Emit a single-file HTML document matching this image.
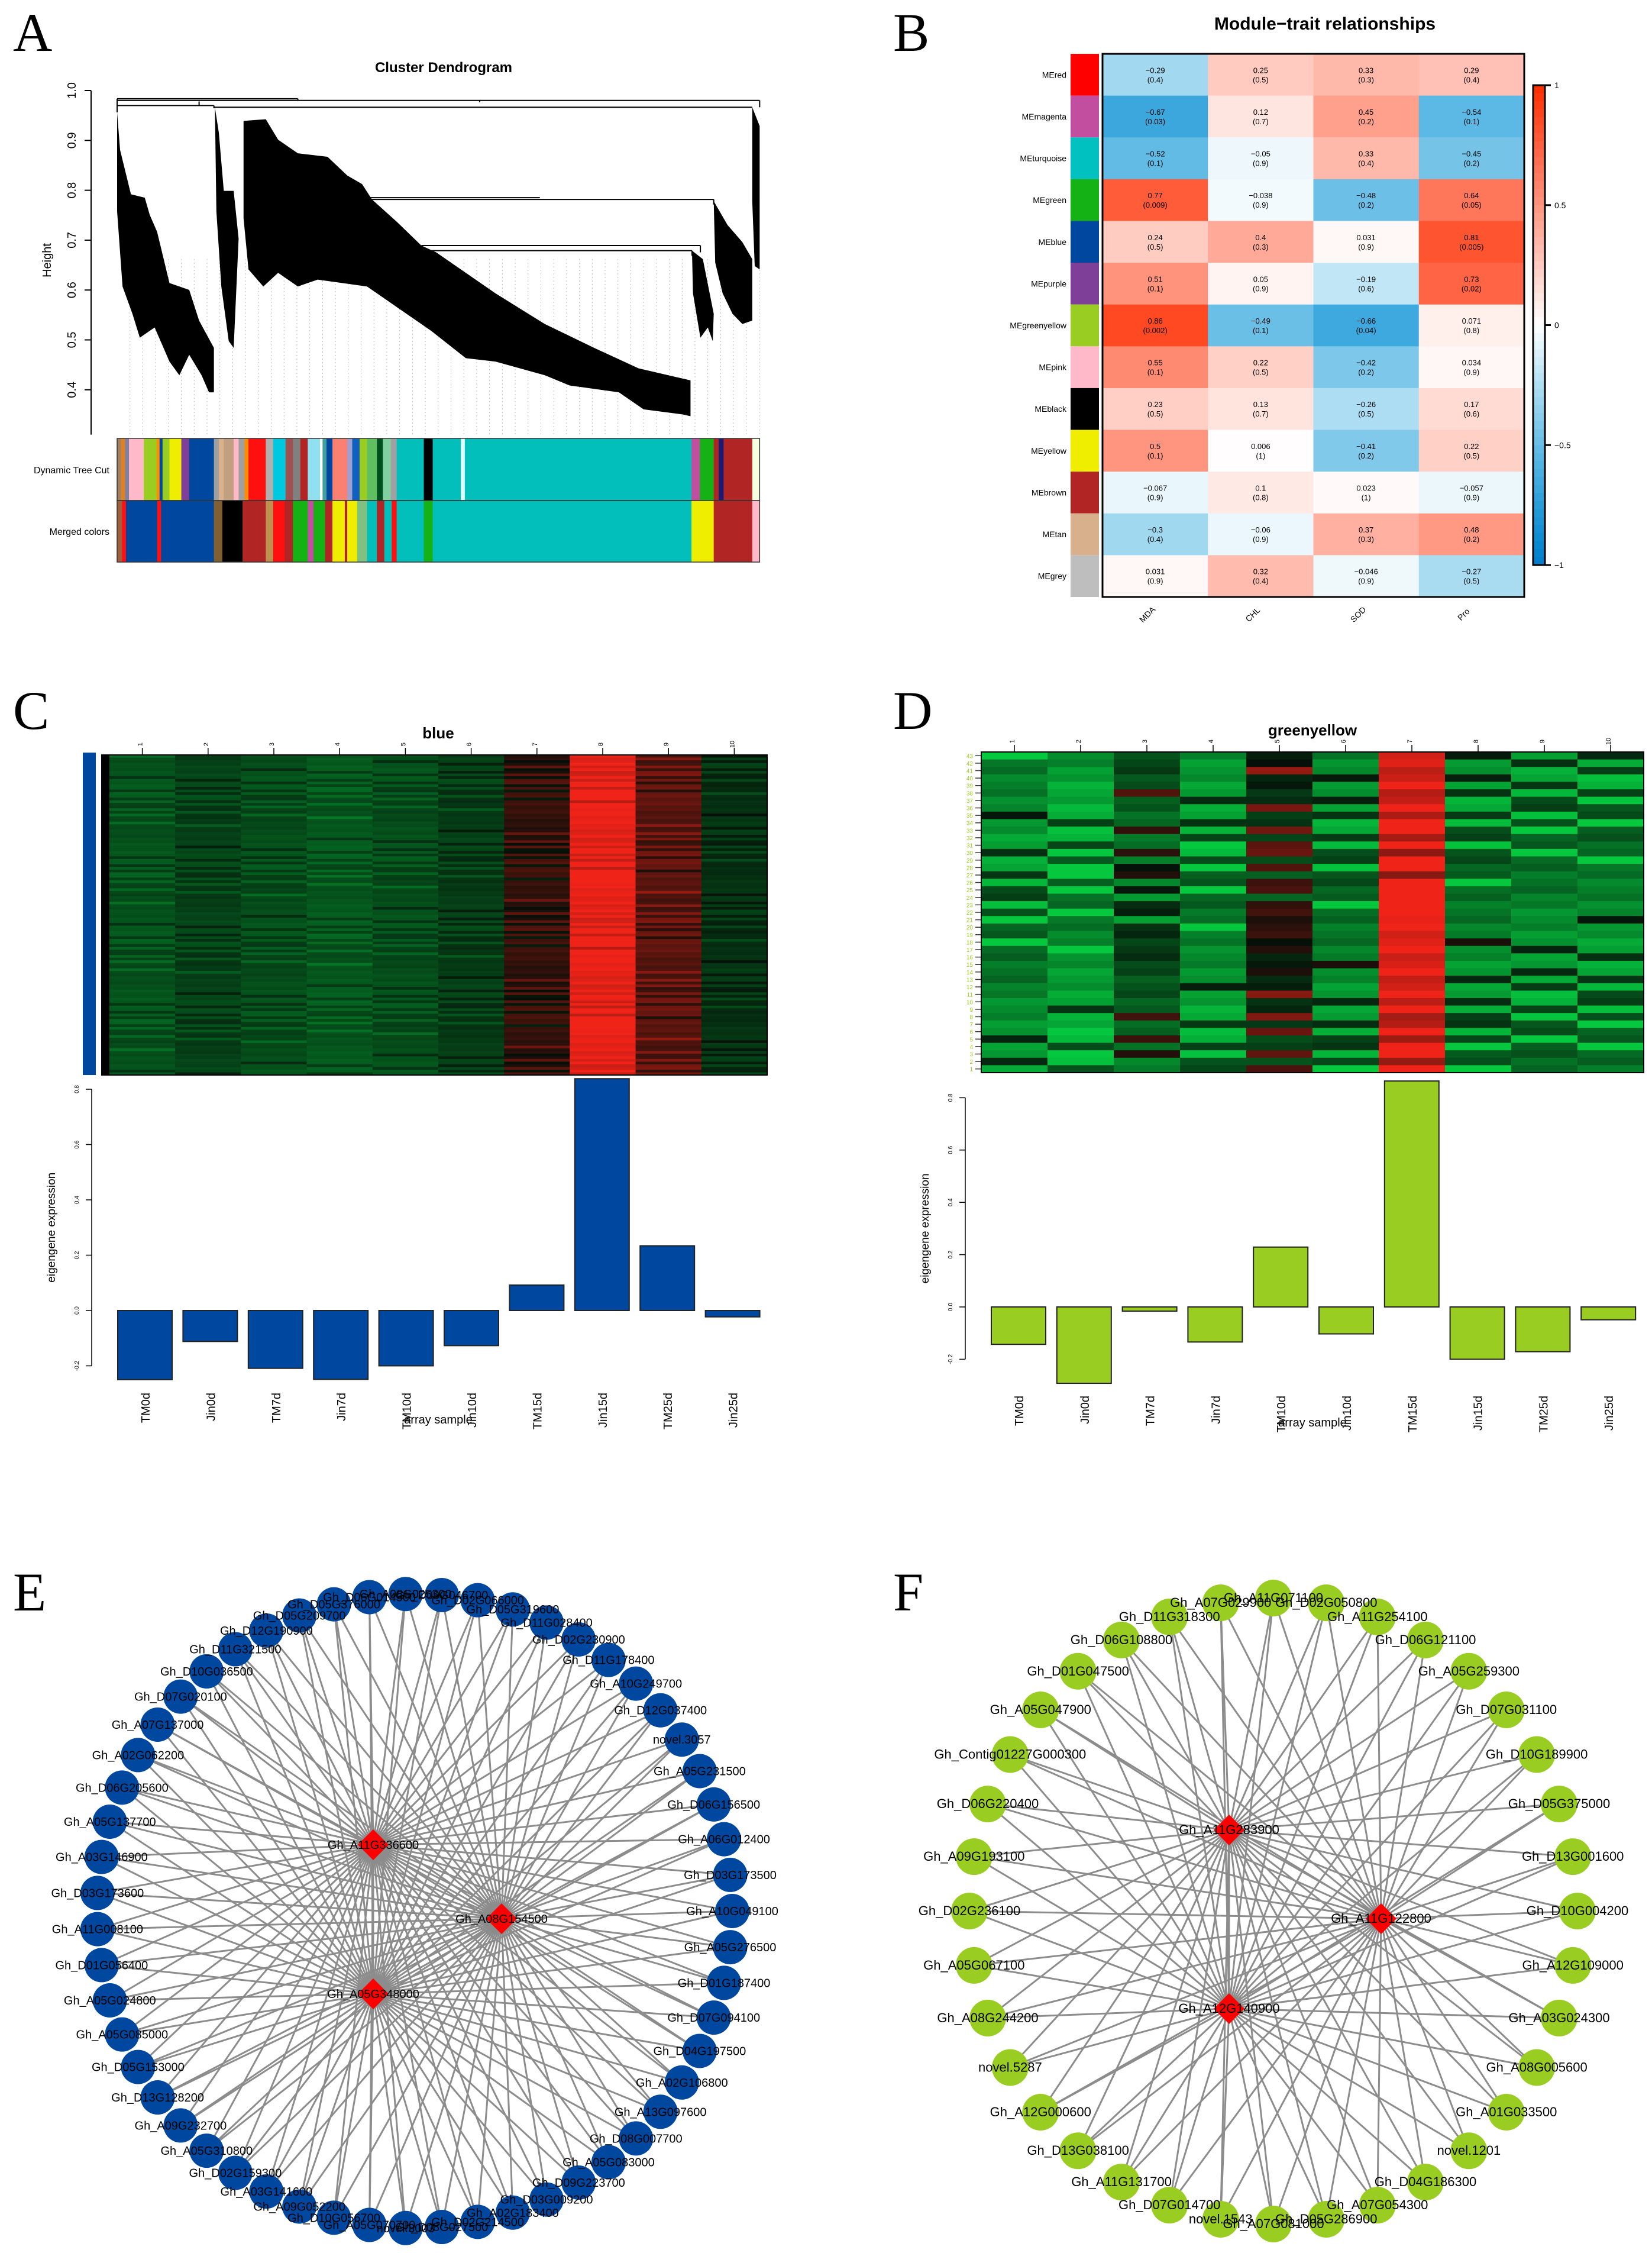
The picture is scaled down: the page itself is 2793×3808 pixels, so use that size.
<!DOCTYPE html>
<html><head><meta charset="utf-8"><title>WGCNA figure</title>
<style>
html,body{margin:0;padding:0;background:#fff;}
svg{display:block;font-family:"Liberation Sans",sans-serif;}
</style></head>
<body>
<svg id="fig" xmlns="http://www.w3.org/2000/svg" width="2793" height="3808" viewBox="0 0 2793 3808">
<rect x="0" y="0" width="2793" height="3808" fill="#fff"/>
<g font-family="Liberation Serif, serif" font-size="92" fill="#000">
<text x="22" y="86">A</text>
<text x="1510" y="86">B</text>
<text x="22" y="1232">C</text>
<text x="1510" y="1232">D</text>
<text x="22" y="2722">E</text>
<text x="1510" y="2722">F</text>
</g>
<g id="pA"></g>
<g id="pB"></g>
<g id="pC"></g>
<g id="pD"></g>
<g id="pE"></g>
<g id="pF"></g>
</svg>
<script>
// ---------- DATA ----------
const traitNames = ["MDA","CHL","SOD","Pro"];
const moduleNames = ["MEred","MEmagenta","MEturquoise","MEgreen","MEblue","MEpurple","MEgreenyellow","MEpink","MEblack","MEyellow","MEbrown","MEtan","MEgrey"];
const moduleColors = ["#ff0000","#c14e9f","#00c0c0","#14b214","#0047a0","#7d3f98","#9acd22","#ffb9c9","#000000","#f0ee00","#b22525","#d8b08c","#bebebe"];
const corVals = [
 [-0.29,0.25,0.33,0.29],[-0.67,0.12,0.45,-0.54],[-0.52,-0.05,0.33,-0.45],[0.77,-0.038,-0.48,0.64],
 [0.24,0.4,0.031,0.81],[0.51,0.05,-0.19,0.73],[0.86,-0.49,-0.66,0.071],[0.55,0.22,-0.42,0.034],
 [0.23,0.13,-0.26,0.17],[0.5,0.006,-0.41,0.22],[-0.067,0.1,0.023,-0.057],[-0.3,-0.06,0.37,0.48],[0.031,0.32,-0.046,-0.27]];
const pVals = [
 ["0.4","0.5","0.3","0.4"],["0.03","0.7","0.2","0.1"],["0.1","0.9","0.4","0.2"],["0.009","0.9","0.2","0.05"],
 ["0.5","0.3","0.9","0.005"],["0.1","0.9","0.6","0.02"],["0.002","0.1","0.04","0.8"],["0.1","0.5","0.2","0.9"],
 ["0.5","0.7","0.5","0.6"],["0.1","1","0.2","0.5"],["0.9","0.8","1","0.9"],["0.4","0.9","0.3","0.2"],["0.9","0.4","0.9","0.5"]];
const colorbarTicks = [1,0.5,0,-0.5,-1];
const samples = ["TM0d","Jin0d","TM7d","Jin7d","TM10d","Jin10d","TM15d","Jin15d","TM25d","Jin25d"];
const blueEigen = [-0.25,-0.112,-0.209,-0.249,-0.2,-0.127,0.092,0.838,0.234,-0.023];
const gyEigen = [-0.143,-0.292,-0.016,-0.134,0.229,-0.103,0.864,-0.2,-0.171,-0.049];
const eigenTicks = [0.8,0.6,0.4,0.2,0.0,-0.2];
const blueColLevel = [-0.6,-0.45,-0.55,-0.65,-0.55,-0.4,0.12,1.0,0.3,-0.3];
const gyColLevel = [-0.6,-0.75,-0.3,-0.65,0.02,-0.55,1.0,-0.55,-0.6,-0.6];
const dendroTicks = [1.0,0.9,0.8,0.7,0.6,0.5,0.4];
const dynSeg = [[234,"#a08060"],[242,"#e08020"],[250,"#8080a0"],[258,"#ffb9c9"],[288,"#9acd22"],[314,"#ff8c00"],[320,"#0047a0"],[326,"#9acd22"],[340,"#f0ee00"],[364,"#7d3f98"],[380,"#0047a0"],[430,"#a0a0a0"],[440,"#d8b08c"],[450,"#c0a080"],[470,"#ffb9c9"],[480,"#a0a0a0"],[492,"#ff8c00"],[500,"#ff1010"],[535,"#b0b0b0"],[550,"#00c8e0"],[575,"#a05050"],[590,"#808080"],[605,"#b22525"],[620,"#90e0f0"],[645,"#ffffff"],[650,"#40a0a0"],[658,"#0047a0"],[670,"#fa8072"],[700,"#a0a0d0"],[710,"#1060c0"],[725,"#9acd22"],[740,"#60c060"],[760,"#005020"],[772,"#80d0a0"],[788,"#a0a0a0"],[800,"#02bfbb"],[855,"#000000"],[873,"#02bfbb"],[930,"#e0ffff"],[938,"#02bfbb"],[1397,"#c14e9f"],[1414,"#14b214"],[1442,"#b22525"],[1452,"#1a1a70"],[1462,"#b22525"],[1520,"#f5ffe0"],[1535,null]];
const mrgSeg = [[234,"#a06040"],[244,"#ff1010"],[252,"#0047a0"],[315,"#ff1010"],[323,"#0047a0"],[430,"#806030"],[447,"#000000"],[488,"#b22525"],[535,"#c09050"],[550,"#ff1010"],[573,"#b22525"],[590,"#14b214"],[620,"#c14e9f"],[632,"#14b214"],[655,"#b22525"],[670,"#f0ee00"],[695,"#b22525"],[700,"#f0ee00"],[720,"#80c080"],[740,"#02bfbb"],[760,"#b22525"],[775,"#02bfbb"],[790,"#ff1010"],[800,"#02bfbb"],[855,"#14b214"],[873,"#02bfbb"],[1397,"#f0ee00"],[1442,"#b22525"],[1520,"#ffb9c9"],[1535,null]];
const eNodes = ["Gh_A08G025300","Gh_D09G046700","Gh_D02G066000","Gh_D05G319600","Gh_D11G028400","Gh_D02G230900","Gh_D11G178400","Gh_A10G249700","Gh_D12G037400","novel.3057","Gh_A05G231500","Gh_D06G156500","Gh_A06G012400","Gh_D03G173500","Gh_A10G049100","Gh_A05G276500","Gh_D01G187400","Gh_D07G094100","Gh_D04G197500","Gh_A02G106800","Gh_A13G097600","Gh_D08G007700","Gh_A05G083000","Gh_D09G223700","Gh_D03G009200","Gh_A02G183400","Gh_D02G214500","Gh_D08G027500","novel.3003","Gh_A05G070700","Gh_D10G056700","Gh_A09G052200","Gh_A03G141600","Gh_D02G159300","Gh_A05G310800","Gh_A09G232700","Gh_D13G128200","Gh_D05G153000","Gh_A05G085000","Gh_A05G024800","Gh_D01G056400","Gh_A11G008100","Gh_D03G173600","Gh_A03G146900","Gh_A05G137700","Gh_D06G205600","Gh_A02G062200","Gh_A07G137000","Gh_D07G020100","Gh_D10G036500","Gh_D11G321500","Gh_D12G190900","Gh_D05G209700","Gh_D05G376000","Gh_D06G014500"];
const eHubs = ["Gh_A11G336600","Gh_A08G154500","Gh_A05G348000"];
const fNodes = ["Gh_A11G071100","Gh_D02G050800","Gh_A11G254100","Gh_D06G121100","Gh_A05G259300","Gh_D07G031100","Gh_D10G189900","Gh_D05G375000","Gh_D13G001600","Gh_D10G004200","Gh_A12G109000","Gh_A03G024300","Gh_A08G005600","Gh_A01G033500","novel.1201","Gh_D04G186300","Gh_A07G054300","Gh_D05G286900","Gh_A07G081000","novel.1543","Gh_D07G014700","Gh_A11G131700","Gh_D13G038100","Gh_A12G000600","novel.5287","Gh_A08G244200","Gh_A05G067100","Gh_D02G236100","Gh_A09G193100","Gh_D06G220400","Gh_Contig01227G000300","Gh_A05G047900","Gh_D01G047500","Gh_D06G108800","Gh_D11G318300","Gh_A07G029900"];
const fHubs = ["Gh_A11G283900","Gh_A11G122800","Gh_A12G140900"];

// ---------- HELPERS ----------
const NS="http://www.w3.org/2000/svg";
function mk(tag, attrs, parent){const e=document.createElementNS(NS,tag);for(const k in attrs)e.setAttribute(k,attrs[k]);parent.appendChild(e);return e;}
function txt(s, attrs, parent){const e=mk("text",attrs,parent);e.textContent=s;return e;}

// ---------- PANEL A ----------
(function(){
 const g=document.getElementById("pA");
 const dx=o=>198+(o-234)*0.835, dyo=o=>153+(o-126)*0.577;
 const hy=v=>153+(1.0-v)*843;
 let t=txt("Cluster Dendrogram",{x:750,y:122,"font-size":24,"font-weight":"bold","text-anchor":"middle"},g);
 
 
 let ax=mk("line",{x1:154,y1:hy(1.0),x2:154,y2:hy(0.31),stroke:"#000","stroke-width":2},g);
 
 
 dendroTicks.forEach(v=>{
  mk("line",{x1:143,y1:hy(v),x2:154,y2:hy(v),stroke:"#000","stroke-width":2},g);
  let tl=txt(v.toFixed(1),{x:128,y:hy(v),"font-size":20,"text-anchor":"middle",transform:`rotate(-90 128 ${hy(v)})`},g);
  
  
 });
 let yl=txt("Height",{x:86,y:440,"font-size":20,"text-anchor":"middle",transform:"rotate(-90 86 440)"},g);
 
 
 for(let o=260;o<1535;o+=26){mk("line",{x1:dx(o),y1:dyo(620),x2:dx(o),y2:dyo(1140),stroke:"#bbb","stroke-width":1,"stroke-dasharray":"2 4"},g);}
 const polys=[
  [[234,190],[240,300],[262,430],[290,440],[300,490],[315,540],[340,690],[380,710],[400,800],[430,880],[430,1010],[420,1010],[405,960],[380,900],[360,960],[340,920],[310,820],[280,850],[265,780],[245,700],[234,480]],
  [[432,175],[440,250],[450,420],[470,420],[480,560],[470,880],[460,860],[445,700],[435,480]],
  [[490,215],[535,210],[560,270],[600,310],[660,320],[700,375],[730,400],[750,445],[800,510],[850,580],[880,600],[1000,720],[1100,810],[1200,880],[1290,940],[1395,975],[1395,1080],[1380,1075],[1300,1060],[1250,1010],[1150,990],[1100,960],[1000,920],[940,910],[870,830],[800,760],[740,700],[690,690],[640,680],[600,700],[560,660],[530,700],[500,650],[490,500]],
  [[1398,595],[1420,620],[1442,780],[1440,860],[1430,820],[1415,850],[1400,720]],
  [[1442,450],[1470,520],[1500,570],[1520,620],[1520,800],[1500,810],[1480,780],[1460,720],[1445,630]],
  [[1520,175],[1535,230],[1535,650],[1525,640],[1520,450]]];
 polys.forEach(p=>{
  let pg=mk("polygon",{points:p.map(q=>dx(q[0])+","+dyo(q[1])).join(" "),fill:"#000"},g);
  
  
 });
 const lines=[[234,155,1535,155],[234,150,600,150],[234,170,430,170],[430,175,1520,175],[745,445,1442,445],[850,580,1415,580],[860,595,1398,595],[1442,445,1442,460],[1415,580,1415,600],[1398,595,1398,610],[1535,155,1535,175],[234,150,234,190],[430,170,430,178],[600,150,600,155],[968,155,968,160],[400,158,400,170],[745,440,1090,440]];
 lines.forEach(l=>mk("line",{x1:dx(l[0]),y1:dyo(l[1]),x2:dx(l[2]),y2:dyo(l[3]),stroke:"#000","stroke-width":2},g));
 function bar(segs,y,h,name){
  for(let i=0;i<segs.length-1;i++){
   let r=mk("rect",{x:dx(segs[i][0]),y:y,width:dx(segs[i+1][0])-dx(segs[i][0])+0.5,height:h,fill:segs[i][1]},g);
   
   
  }
  mk("rect",{x:dx(234),y:y,width:dx(1535)-dx(234),height:h,fill:"none",stroke:"#333","stroke-width":1.5},g);
 }
 bar(dynSeg,741,105,'dynamic-tree-cut-segment');
 bar(mrgSeg,846,104,'merged-colors-segment');
 let l1=txt("Dynamic Tree Cut",{x:185,y:800,"font-size":16,"text-anchor":"end"},g);
 
 
 let l2=txt("Merged colors",{x:185,y:904,"font-size":16,"text-anchor":"end"},g);
 
 
})();

// ---------- PANEL B ----------
function corColor(v){
 if(v>=0){const r=255,gg=255-v*211,b=255-v*255;return `rgb(${r|0},${Math.max(0,gg)|0},${Math.max(0,b)|0})`;}
 const a=-v;const r=255*Math.pow(1-a,1.3),gg=255-a*130,b=255-a*50;return `rgb(${r|0},${gg|0},${b|0})`;
}
(function(){
 const g=document.getElementById("pB");
 const L=1864,R=2577,T=91,B=1009,cw=(R-L)/4,rh=(B-T)/13;
 let t=txt("Module\u2212trait relationships",{x:2240,y:50,"font-size":30,"font-weight":"bold","text-anchor":"middle"},g);
 
 
 moduleNames.forEach((m,i)=>{
  let sw=mk("rect",{x:1810,y:T+i*rh,width:48,height:rh,fill:moduleColors[i]},g);
  
  
  let lb=txt(m,{x:1803,y:T+i*rh+rh/2+5,"font-size":14,"text-anchor":"end"},g);
  
  
  traitNames.forEach((tn,j)=>{
   let c=mk("rect",{x:L+j*cw,y:T+i*rh,width:cw+0.5,height:rh+0.5,fill:corColor(corVals[i][j])},g);
   
   
   let tv=txt(String(corVals[i][j]).replace("-","\u2212"),{x:L+j*cw+cw/2,y:T+i*rh+rh/2-3,"font-size":13,"text-anchor":"middle"},g);
   
   
   let tp=txt("("+pVals[i][j]+")",{x:L+j*cw+cw/2,y:T+i*rh+rh/2+13,"font-size":13,"text-anchor":"middle"},g);
   
   
  });
 });
 mk("rect",{x:L,y:T,width:R-L,height:B-T,fill:"none",stroke:"#000","stroke-width":3},g);
 traitNames.forEach((tn,j)=>{
  const x=L+j*cw+cw/2-10,y=1042;
  let tl=txt(tn,{x:x,y:y,"font-size":14,"text-anchor":"middle",transform:`rotate(-45 ${x} ${y})`},g);
  
  
 });
 const cx=2592,cT=144,cB=955;
 const n=60;
 for(let k=0;k<n;k++){
  const v=1-2*(k+0.5)/n;
  mk("rect",{x:cx,y:cT+k*(cB-cT)/n,width:20,height:(cB-cT)/n+0.6,fill:corColor(v)},g);
 }
 let cb=mk("rect",{x:cx,y:cT,width:20,height:cB-cT,fill:"none",stroke:"#000","stroke-width":3},g);
 
 
 colorbarTicks.forEach(v=>{
  const y=cT+(1-v)/2*(cB-cT);
  mk("line",{x1:cx+20,y1:y,x2:cx+30,y2:y,stroke:"#000","stroke-width":3},g);
  let tl=txt(String(v).replace("-","\u2212"),{x:cx+36,y:y+5,"font-size":14},g);
  
  
 });
})();

// ---------- PANELS C & D ----------
function heatColor(v,gmax){
 if(v>=0){return `rgb(${Math.min(255,25+v*215)|0},${Math.max(0,15+v*20)|0},${Math.max(0,10+v*15)|0})`;}
 const a=-v;return `rgb(5,${(15+a*gmax)|0},${(8+a*gmax*0.3)|0})`;
}
function expPanel(gid,title,L,R,T,B,nRows,levels,rowAmp,eig,axisX,zeroY,unit,barColor,labTop,centers0,step,showRowLabels,gmax){
 const g=document.getElementById(gid);
 const cw=(R-L)/10, rh=(B-T)/nRows;
 let t=txt(title,{x:(L+R)/2,y:T-28,"font-size":26,"font-weight":"bold","text-anchor":"middle"},g);
 
 
 for(let c=0;c<10;c++){
  for(let r=0;r<nRows;r++){
   const w=((r*37+c*17)%11)/10-0.5; const w2=((r*13+c*7)%5)/4-0.5;
   let v=levels[c]+rowAmp*w+rowAmp*0.6*w2; v=Math.max(-1,Math.min(1,v));
   let cell=mk("rect",{x:L+c*cw,y:T+r*rh,width:cw+0.5,height:rh+0.5,fill:heatColor(v,gmax)},g);
   
   
  }
  const tx=L+c*cw+cw/2;
  mk("line",{x1:tx,y1:T-12,x2:tx,y2:T,stroke:"#000","stroke-width":1.5},g);
  let cl=txt(String(c+1),{x:tx,y:T-18,"font-size":11,"text-anchor":"middle",transform:`rotate(-90 ${tx} ${T-18})`},g);
  
  
 }
 if(showRowLabels){
  for(let r=0;r<nRows;r++){
   const y=T+r*rh+rh/2;
   mk("line",{x1:L-10,y1:y,x2:L,y2:y,stroke:"#333","stroke-width":1.5},g);
   let rl=txt(String(nRows-r),{x:L-14,y:y+4,"font-size":10,"text-anchor":"end",fill:"#9acd22"},g);
   
   
  }
 } else {
  mk("rect",{x:L-13,y:T,width:13,height:B-T,fill:"#000"},g);
  let sb=mk("rect",{x:140,y:T-4,width:22,height:B-T+4,fill:"#0047a0"},g);
  
  
 }
 mk("rect",{x:showRowLabels?L:L-13,y:T,width:R-L+(showRowLabels?0:13),height:B-T,fill:"none",stroke:"#000","stroke-width":2},g);
 const yv=v=>zeroY-v*unit;
 let ax=mk("line",{x1:axisX,y1:yv(0.8),x2:axisX,y2:yv(-0.2),stroke:"#000","stroke-width":1.5},g);
 
 
 eigenTicks.forEach(v=>{
  mk("line",{x1:axisX-10,y1:yv(v),x2:axisX,y2:yv(v),stroke:"#000","stroke-width":1.5},g);
  let tl=txt(v.toFixed(1),{x:axisX-22,y:yv(v),"font-size":10,"text-anchor":"middle",transform:`rotate(-90 ${axisX-22} ${yv(v)})`},g);
  
  
 });
 const ylx=axisX-62, yly=zeroY-0.3*unit;
 let yl=txt("eigengene expression",{x:ylx,y:yly,"font-size":19,"text-anchor":"middle",transform:`rotate(-90 ${ylx} ${yly})`},g);
 
 
 eig.forEach((v,i)=>{
  const cx=centers0+step*i;
  const y0=Math.min(yv(0),yv(v)), h=Math.abs(yv(v)-yv(0));
  let b=mk("rect",{x:cx-46,y:y0,width:92,height:Math.max(h,1),fill:barColor,stroke:"#222","stroke-width":2},g);
  
  
  let sl=txt(samples[i],{x:cx+8,y:labTop,"font-size":20,"text-anchor":"end",transform:`rotate(-90 ${cx+8} ${labTop})`},g);
  
  
 });
 let xs=txt("array sample",{x:(L+R)/2,y:labTop+52,"font-size":20,"text-anchor":"middle"},g);
 
 
}
expPanel("pC","blue",185,1297,1276,1817,120,blueColLevel,0.35,blueEigen,155,2215,467.5,"#0047a0",2354,245,110.4,false,110);
expPanel("pD","greenyellow",1659,2779,1271,1813,43,gyColLevel,0.7,gyEigen,1632,2209,442,"#9acd22",2359,1722,110.8,true,185);

// ---------- NETWORKS ----------
function network(gid,nodes,hubs,cx,cy,rx,ry,start,nodeR,fill,hubPos,fs){
 const g=document.getElementById(gid);
 const N=nodes.length;
 const pos=nodes.map((n,i)=>{const a=(start+i*360/N)*Math.PI/180;return [cx+rx*Math.cos(a),cy+ry*Math.sin(a)];});
 pos.forEach(p=>{hubPos.forEach(h=>{
  let e=mk("line",{x1:p[0],y1:p[1],x2:h[0],y2:h[1],stroke:"#8c8c8c","stroke-width":3},g);
  
  
 });});
 mk("line",{x1:hubPos[0][0],y1:hubPos[0][1],x2:hubPos[2][0],y2:hubPos[2][1],stroke:"#8c8c8c","stroke-width":3},g);
 pos.forEach((p,i)=>{
  let c=mk("circle",{cx:p[0],cy:p[1],r:nodeR,fill:fill},g);
  
  
 });
 pos.forEach((p,i)=>{
  let t=txt(nodes[i],{x:p[0],y:p[1]+7,"font-size":fs,"text-anchor":"middle"},g);
  
  
 });
 hubPos.forEach((h,i)=>{
  const d=26;
  let dm=mk("polygon",{points:`${h[0]},${h[1]-d} ${h[0]+d},${h[1]} ${h[0]},${h[1]+d} ${h[0]-d},${h[1]}`,fill:"#ff0000"},g);
  
  
  let t=txt(hubs[i],{x:h[0],y:h[1]+7,"font-size":fs,"text-anchor":"middle"},g);
  
  
 });
}
network("pE",eNodes,eHubs,701,3230,537,536,-14*360/55,29,"#0047a0",[[631,3118],[848,3243],[631,3370]],20);
network("pF",fNodes,fHubs,2153,3230,514,529,-90,31,"#9acd22",[[2078,3093],[2335,3243],[2078,3395]],22);
</script>
</body></html>
